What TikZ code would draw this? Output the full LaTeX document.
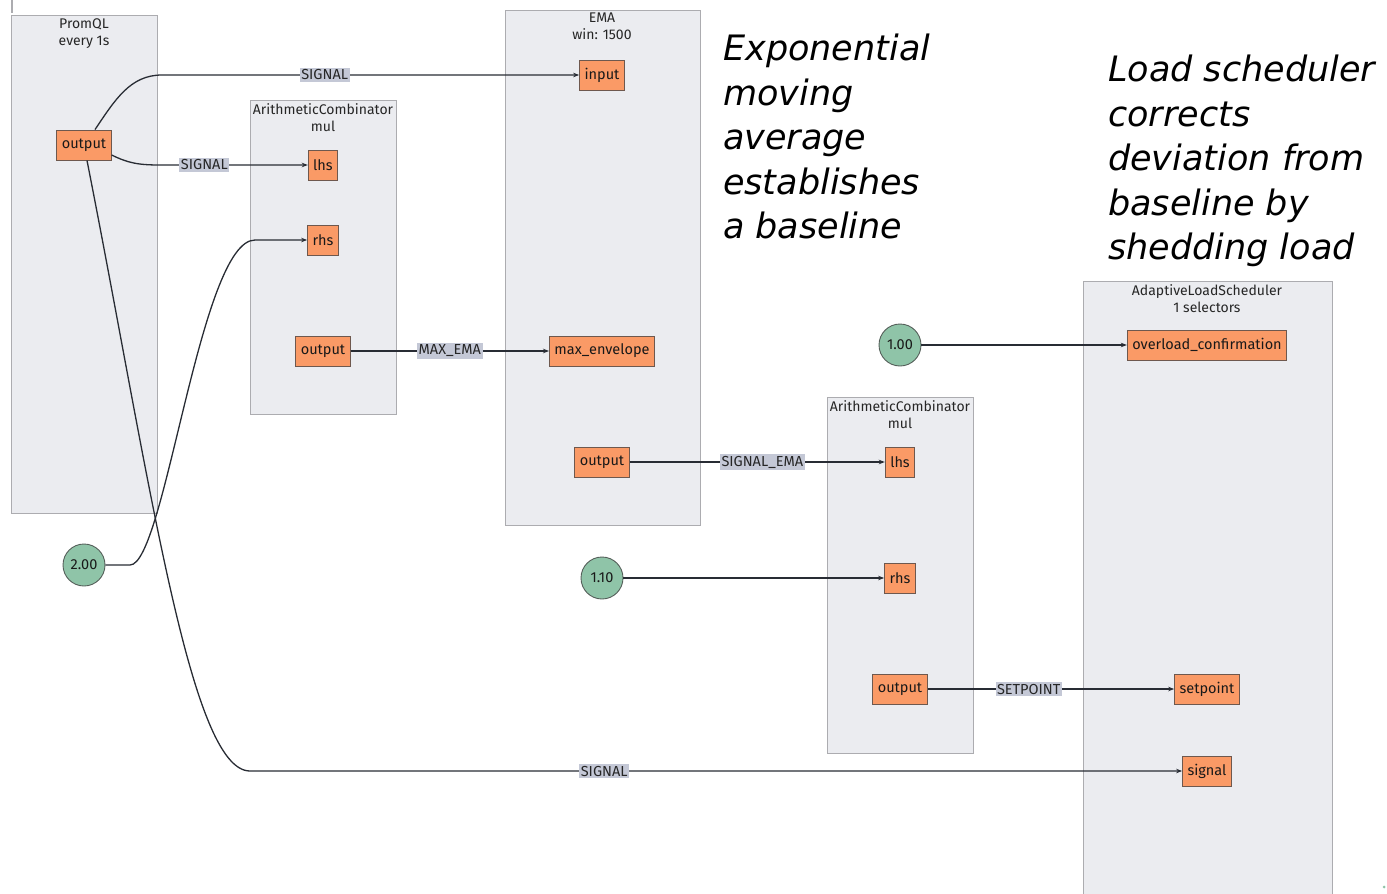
\documentclass[tikz,border=0pt]{standalone}
\usepackage{fontspec}
\setmainfont{Fira Sans}
\newfontfamily\notefont{DejaVu Sans}
\usetikzlibrary{arrows.meta}

\definecolor{boxfill}{RGB}{235,236,240}
\definecolor{boxdraw}{RGB}{172,172,176}
\definecolor{portfill}{RGB}{250,154,102}
\definecolor{portdraw}{RGB}{110,88,78}
\definecolor{constfill}{RGB}{143,196,168}
\definecolor{constdraw}{RGB}{85,95,90}
\definecolor{lblfill}{RGB}{196,200,214}
\definecolor{edgecol}{RGB}{40,44,52}

\tikzset{
  group/.style={draw=boxdraw, fill=boxfill, line width=0.9pt, inner sep=0pt, anchor=north west},
  grouptitle/.style={anchor=north, align=center, inner sep=0pt, text=black!85,
                     font=\fontsize{14}{17}\selectfont},
  port/.style={draw=portdraw, fill=portfill, line width=0.9pt, minimum height=30pt,
               inner xsep=5pt, inner ysep=0pt, text=black!90, font=\fontsize{14.5}{16}\selectfont},
  const/.style={circle, draw=constdraw, fill=constfill, line width=0.9pt,
                minimum size=42pt, inner sep=0pt, text=black!90, font=\fontsize{14.5}{16}\selectfont},
  lbl/.style={fill=lblfill, inner xsep=1.5pt, inner ysep=1.5pt, text=black!85,
              font=\fontsize{14.5}{16}\selectfont},
  flow/.style={draw=edgecol, line width=1.3pt, -{Stealth[length=6pt,width=4.5pt]}},
  note/.style={anchor=north west, align=left, inner sep=0pt, text=black,
               font=\notefont\itshape\fontsize{35}{44.5}\selectfont},
}

\begin{document}
\begin{tikzpicture}[x=1pt, y=-1pt]
  \useasboundingbox (0,0) rectangle (1387,894);

  % ---- component groups ----
  \node[group, minimum width=146pt, minimum height=498pt] (promql) at (11,15) {};
  \node[grouptitle] at (84,18) {PromQL\\every 1s};

  \node[group, minimum width=146pt, minimum height=314pt] (ac1) at (250,100) {};
  \node[grouptitle] at (323,103) {ArithmeticCombinator\\mul};

  \node[group, minimum width=195pt, minimum height=515pt] (ema) at (505,10) {};
  \node[grouptitle] at (602,13) {EMA\\win: 1500};

  \node[group, minimum width=146pt, minimum height=356pt] (ac2) at (827,397) {};
  \node[grouptitle] at (900,400) {ArithmeticCombinator\\mul};

  \node[group, minimum width=249pt, minimum height=620pt] (als) at (1083,281) {};
  \node[grouptitle] at (1207,284) {AdaptiveLoadScheduler\\1 selectors};

  % ---- ports ----
  \node[port] (pout) at (84,145) {output};

  \node[port] (lhsA) at (323,165) {lhs};
  \node[port] (rhsA) at (323,240) {rhs};
  \node[port] (outA) at (323,351) {output};

  \node[port] (emain) at (602,75) {input};
  \node[port] (emamax) at (602,351) {max\_envelope};
  \node[port] (emaout) at (602,462) {output};

  \node[port] (lhsB) at (900,462) {lhs};
  \node[port] (rhsB) at (900,578) {rhs};
  \node[port] (outB) at (900,689) {output};

  \node[port] (overload) at (1207,345) {overload\_confirmation};
  \node[port] (setpt) at (1207,689) {setpoint};
  \node[port] (sig) at (1207,771) {signal};

  % ---- constants ----
  \node[const] (ctwo) at (84,565) {2.00};
  \node[const] (cone10) at (602,578) {1.10};
  \node[const] (cone) at (900,345) {1.00};

  % ---- connectors ----
  \draw[flow] ([xshift=11pt]pout.north) .. controls (115,100) and (130,75) .. (162,75)
     -- node[lbl, pos=0.39] {SIGNAL} (emain.west);
  \draw[flow] ([yshift=-10pt]pout.east) .. controls (128,163) and (138,165) .. (160,165)
     -- node[lbl, pos=0.3] {SIGNAL} (lhsA.west);
  \draw[flow] ([xshift=3pt]pout.south) .. controls (150,480) and (190,771) .. (250,771)
     -- node[lbl, pos=0.38] {SIGNAL} (sig.west);
  \draw[flow] (ctwo.east) -- (130,565) .. controls (165,565) and (200,240) .. (255,240)
     -- (rhsA.west);
  \draw[flow] (outA.east) -- node[lbl] {MAX\_EMA} (emamax.west);
  \draw[flow] (emaout.east) -- node[lbl, pos=0.52] {SIGNAL\_EMA} (lhsB.west);
  \draw[flow] (cone10.east) -- (rhsB.west);
  \draw[flow] (cone.east) -- (overload.west);
  \draw[flow] (outB.east) -- node[lbl, pos=0.41] {SETPOINT} (setpt.west);

  % ---- annotations ----
  \node[note] (noteema) at (723,34) {Exponential\\moving\\average\\establishes\\a baseline};
  \node[note] (notesched) at (1108,55) {Load scheduler\\corrects\\deviation from\\baseline by\\shedding load};

  % ---- small marks at the edges ----
  \draw[draw=boxdraw, line width=2pt] (12,0) -- (12,13);
  \fill[constfill] (1384,887) circle (1.5);
\end{tikzpicture}
\end{document}
